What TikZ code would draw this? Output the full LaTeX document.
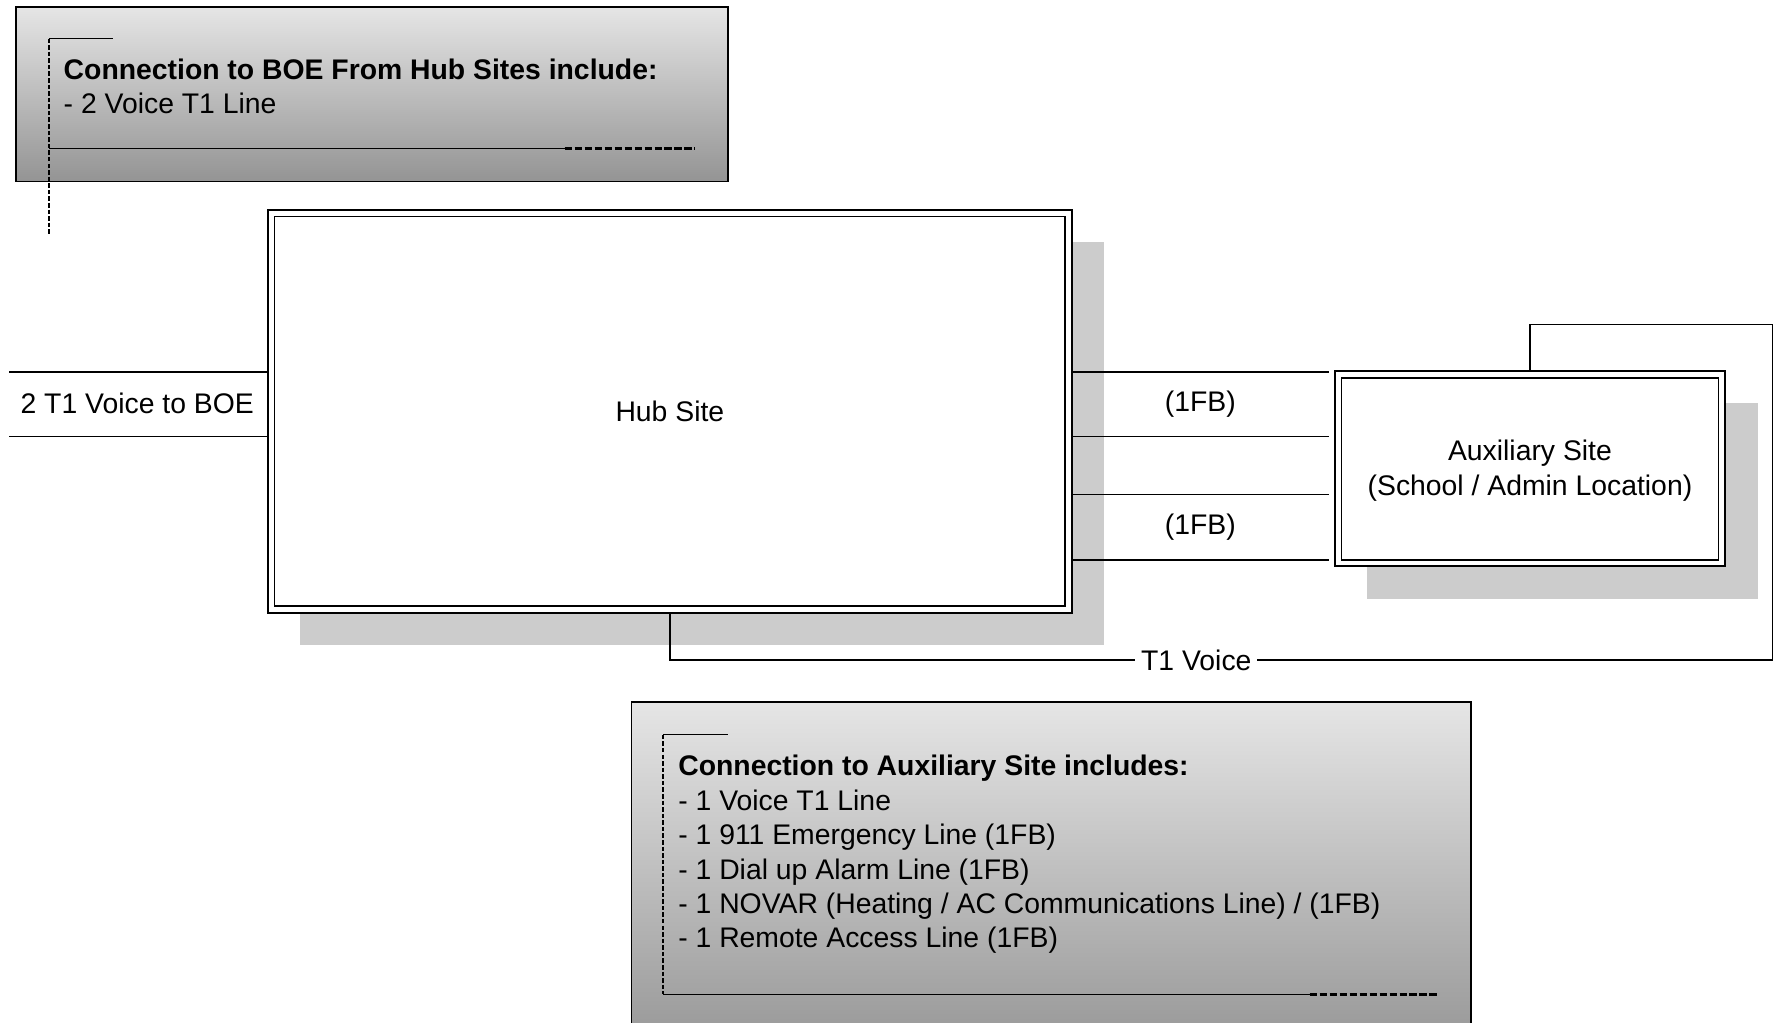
\documentclass[tikz,border=0pt]{standalone}
\usepackage{fontspec}
\setmainfont{Liberation Sans}
\usetikzlibrary{backgrounds}

\begin{document}
\begin{tikzpicture}[x=1pt, y=-1pt,
    font=\fontsize{25}{30.3}\selectfont,
    sitebox/.style={draw, fill=white, line width=1.6pt, double, double distance=4.4pt,
      outer sep=3pt, inner sep=0pt, align=center},
    siteshadow/.style={fill=black!20},
    notebox/.style={draw, line width=1.5pt, top color=black!10, bottom color=black!42},
    notetext/.style={anchor=base west, inner sep=0pt},
    wire/.style={line width=1.2pt},
    leader/.style={line width=2pt, dash pattern=on 4pt off 1.8pt},
    dotrun/.style={line width=2.8pt, dash pattern=on 6.3pt off 2.5pt}]

  \useasboundingbox (0,0) rectangle (1568,902);

  % Draw the two shaded note boxes
  \shade[notebox] (14,6) rectangle (642,160);
  \shade[notebox] (557,619) rectangle (1297,935);

  % Add the bracket marks inside the note boxes
  \draw[leader] (43,34) -- (43,206);
  \draw[wire] (43,34) -- (100,34);
  \draw[wire] (43,131) -- (498,131);
  \draw[dotrun] (498,131) -- (613,131);
  \draw[leader] (585,648) -- (585,877);
  \draw[wire] (585,648) -- (642,648);
  \draw[wire] (585,877) -- (1155,877);
  \draw[dotrun] (1155,877) -- (1269,877);

  % Add the note texts
  \node[notetext] (boehead) at (56,70) {\bfseries Connection to BOE From Hub Sites include:};
  \node[notetext] (boeline) at (56,100) {- 2 Voice T1 Line};
  \node[notetext] (auxhead) at (598,684) {\bfseries Connection to Auxiliary Site includes:};
  \foreach \txt [count=\i] in {- 1 Voice T1 Line, - 1 911 Emergency Line (1FB),
      - 1 Dial up Alarm Line (1FB), - 1 NOVAR (Heating / AC Communications Line) / (1FB),
      - 1 Remote Access Line (1FB)}
    \node[notetext] (auxline\i) at (598,684+30.4*\i) {\txt};

  % Place the hub site and the auxiliary site
  \node[sitebox, minimum width=703.5pt, minimum height=349.5pt] (hub) at (590.75,362.75) {Hub Site};
  \node[sitebox, minimum width=338.5pt, minimum height=166.5pt] (aux) at (1349.25,413.25) {};
  \node[align=center] (auxlabel) at (1349.25,415) {Auxiliary Site\\(School / Admin Location)};

  % Draw the shadows behind both sites
  \begin{pgfonlayer}{background}
    \fill[siteshadow] ([shift={(28.5,28.5)}]hub.north west) rectangle ([shift={(28.5,28.5)}]hub.south east);
    \fill[siteshadow] ([shift={(28.5,28.5)}]aux.north west) rectangle ([shift={(28.5,28.5)}]aux.south east);
  \end{pgfonlayer}

  % Draw the lines to the BOE
  \coordinate (boe) at (8,356);
  \foreach \y in {328,385}
    \draw[wire] (boe |- 0,\y) -- (hub.west |- 0,\y);
  \node (boelabel) at (121,356) {2 T1 Voice to BOE};

  % Draw the lines between the hub and the auxiliary site
  \coordinate (auxin) at ([xshift=-5pt]aux.west);
  \foreach \y in {328,385,436,494}
    \draw[wire] (hub.east |- 0,\y) -- (auxin |- 0,\y);
  \node (fb1) at (1058.5,356.5) {(1FB)};
  \node (fb2) at (1058.5,465) {(1FB)};

  % Draw the T1 voice loop round the auxiliary site
  \coordinate (loopR) at (1563,286);
  \draw[wire] (hub.south) |- (loopR |- 0,582) -- (loopR) -| (aux.north);
  \node[fill=white, inner xsep=5pt, inner ysep=1pt] (t1) at (1055,582) {T1 Voice};

\end{tikzpicture}
\end{document}
